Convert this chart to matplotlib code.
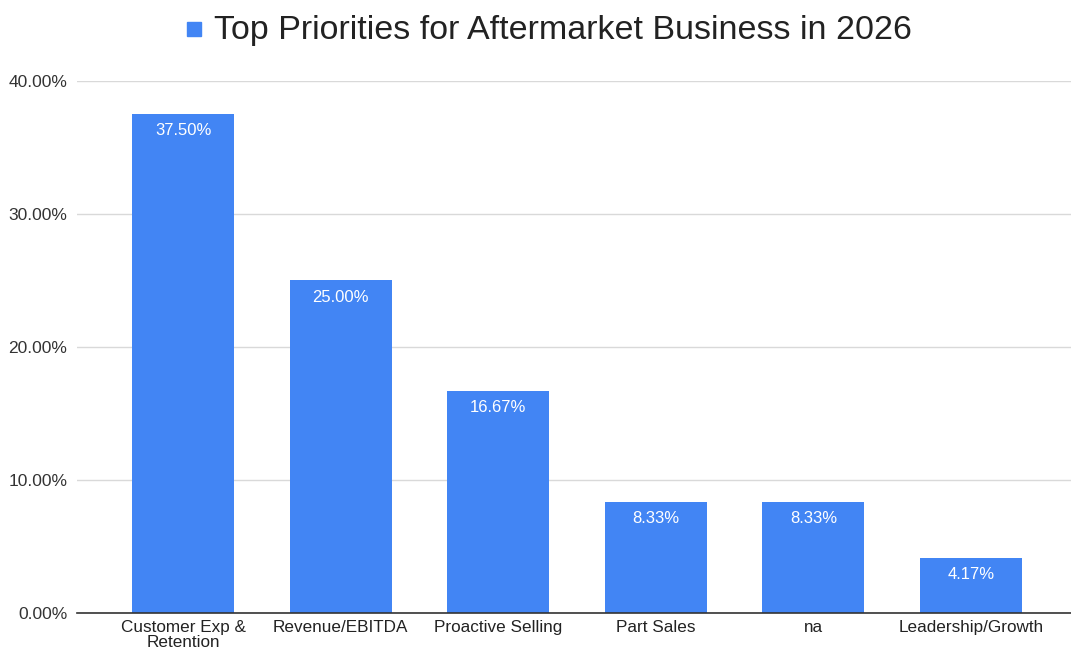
import matplotlib
matplotlib.use("Agg")
import matplotlib.pyplot as plt
from matplotlib.patches import Rectangle
from matplotlib.ticker import FuncFormatter, MultipleLocator

plt.rcParams["font.family"] = ["Liberation Sans", "DejaVu Sans"]

categories = ["Customer Exp &\nRetention", "Revenue/EBITDA", "Proactive Selling",
              "Part Sales", "na", "Leadership/Growth"]
shares = [37.50, 25.00, 16.67, 8.33, 8.33, 4.17]
series_name = "Top Priorities for Aftermarket Business in 2026"

bar_color = "#4285F4"

fig = plt.figure(figsize=(10.71, 6.51), dpi=100)
ax = fig.add_axes([77 / 1071, 38 / 651, 1 - 77 / 1071, 532 / 651])

x = list(range(len(categories)))
bars = ax.bar(x, shares, width=0.647, color=bar_color, zorder=3)

for rect, v in zip(bars, shares):
    ax.annotate(f"{v:.2f}%", (rect.get_x() + rect.get_width() / 2, v),
                xytext=(0, -6.5), textcoords="offset points",
                ha="center", va="top", color="white", fontsize=12, zorder=4)

ax.set_xlim(-0.673, 5.635)
ax.set_ylim(0, 40)
ax.yaxis.set_major_locator(MultipleLocator(10))
ax.yaxis.set_major_formatter(FuncFormatter(lambda v, _: f"{v:.2f}%"))
ax.set_xticks(x)
ax.set_xticklabels(categories, fontsize=12.3, color="#222222", linespacing=1.0)
ax.tick_params(axis="y", length=0, pad=7, labelsize=12.5, labelcolor="#333333")
ax.tick_params(axis="x", length=0, pad=5)

ax.grid(axis="y", color="#d9d9d9", linewidth=1, zorder=0)
for side in ("top", "right", "left"):
    ax.spines[side].set_visible(False)
ax.spines["bottom"].set_color("#333333")
ax.spines["bottom"].set_linewidth(1.2)
ax.spines["bottom"].set_zorder(5)

# legend-style title: color swatch followed by series name
fig.patches.append(Rectangle((187 / 1071, 1 - 36 / 651), 14 / 1071, 14 / 651,
                             transform=fig.transFigure, color=bar_color))
fig.text(214 / 1071, 1 - 30 / 651, series_name, fontsize=24.5, color="#222222",
         ha="left", va="center")

fig.savefig("out.png", dpi=100)
